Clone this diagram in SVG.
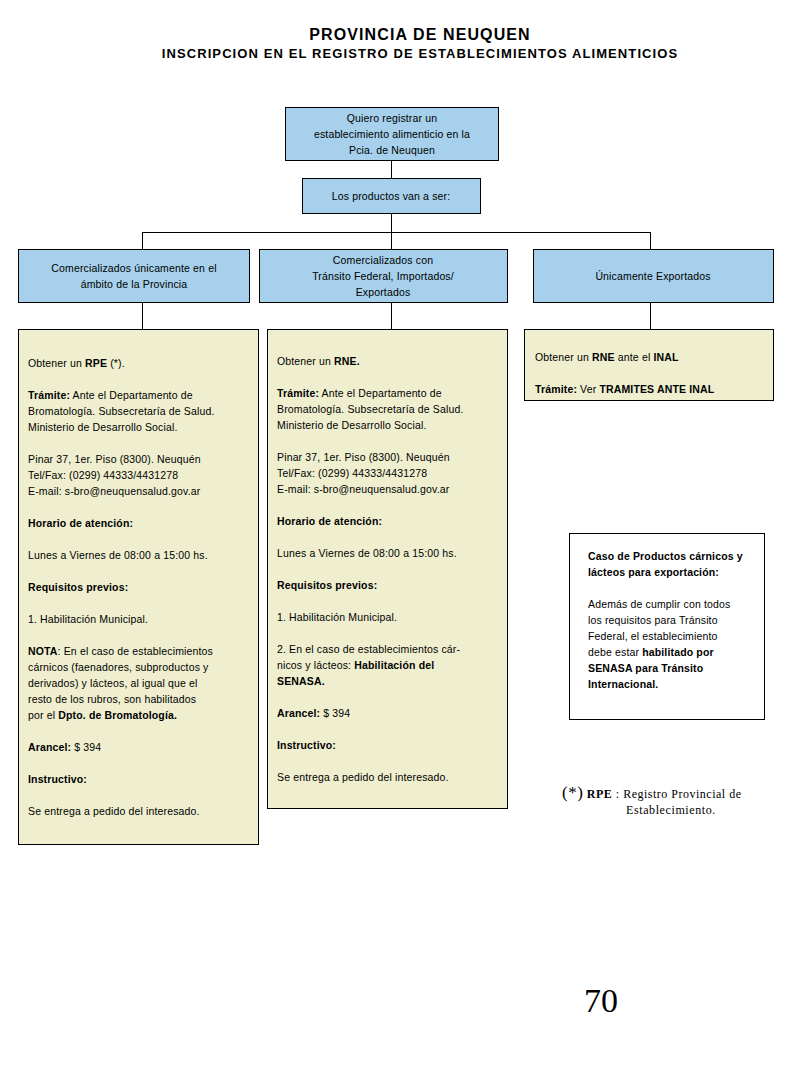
<svg xmlns="http://www.w3.org/2000/svg" width="800" height="1066" viewBox="0 0 800 1066">
<style>
.t{font-family:"Liberation Sans",Arial,sans-serif;font-size:10.5px;fill:#000;letter-spacing:0.15px}
.c{text-anchor:middle}
.b{font-weight:bold}
.blue{fill:#a6d0eb;stroke:#000;stroke-width:1}
.yel{fill:#efefcf;stroke:#000;stroke-width:1}
.wht{fill:#fff;stroke:#000;stroke-width:1}
.ln{stroke:#000;stroke-width:1;fill:none}
.s{font-family:"Liberation Serif","Times New Roman",serif;fill:#000}
</style>
<rect width="800" height="1066" fill="#fff"/>
<text x="420" y="40" class="t c b" style="font-size:16px;letter-spacing:1.1px">PROVINCIA DE NEUQUEN</text>
<text x="420" y="58" class="t c b" style="font-size:13px;letter-spacing:1.1px">INSCRIPCION EN EL REGISTRO DE ESTABLECIMIENTOS ALIMENTICIOS</text>

<g id="connectors">
<path class="ln" d="M391.5 160V178M391.5 213V232.5M142.5 232.5H650.5M142.5 232V249M391.5 232V249M650.5 232V249M142.5 302V329M391.5 302V329M650.5 302V329"/>
</g>

<g id="n1">
<rect class="blue" x="285.5" y="107.5" width="213" height="53"/>
<text class="t c" x="392" y="122">Quiero registrar un</text>
<text class="t c" x="392" y="138">establecimiento alimenticio en la</text>
<text class="t c" x="392" y="154">Pcia. de Neuquen</text>
</g>
<g id="n2">
<rect class="blue" x="302.5" y="178.5" width="178" height="35"/>
<text class="t c" x="391" y="200">Los productos van a ser:</text>
</g>
<g id="n3">
<rect class="blue" x="18.5" y="249.5" width="231" height="53"/>
<text class="t c" x="134" y="272">Comercializados únicamente en el</text>
<text class="t c" x="134" y="288">ámbito de la Provincia</text>
</g>
<g id="n4">
<rect class="blue" x="259.5" y="249.5" width="248" height="53"/>
<text class="t c" x="383" y="264">Comercializados con</text>
<text class="t c" x="383" y="280">Tránsito Federal, Importados/</text>
<text class="t c" x="383" y="296">Exportados</text>
</g>
<g id="n5">
<rect class="blue" x="533.5" y="249.5" width="240" height="53"/>
<text class="t c" x="653" y="280">Únicamente Exportados</text>
</g>

<g id="n6">
<rect class="yel" x="18.5" y="329.5" width="240" height="515"/>
<text class="t" x="28" y="367">Obtener un <tspan class="b">RPE</tspan> (*).</text>
<text class="t" x="28" y="399"><tspan class="b">Trámite:</tspan> Ante el Departamento de</text>
<text class="t" x="28" y="415">Bromatología. Subsecretaría de Salud.</text>
<text class="t" x="28" y="431">Ministerio de Desarrollo Social.</text>
<text class="t" x="28" y="463">Pinar 37, 1er. Piso (8300). Neuquén</text>
<text class="t" x="28" y="479">Tel/Fax: (0299) 44333/4431278</text>
<text class="t" x="28" y="495">E-mail: s-bro@neuquensalud.gov.ar</text>
<text class="t b" x="28" y="527">Horario de atención:</text>
<text class="t" x="28" y="559">Lunes a Viernes de 08:00 a 15:00 hs.</text>
<text class="t b" x="28" y="591">Requisitos previos:</text>
<text class="t" x="28" y="623">1.  Habilitación Municipal.</text>
<text class="t" x="28" y="655"><tspan class="b">NOTA</tspan>: En el caso de establecimientos</text>
<text class="t" x="28" y="671">cárnicos (faenadores, subproductos y</text>
<text class="t" x="28" y="687">derivados) y lácteos, al igual que el</text>
<text class="t" x="28" y="703">resto de los rubros, son habilitados</text>
<text class="t" x="28" y="719">por el  <tspan class="b">Dpto. de Bromatología.</tspan></text>
<text class="t" x="28" y="751"><tspan class="b">Arancel:</tspan> $ 394</text>
<text class="t b" x="28" y="783">Instructivo:</text>
<text class="t" x="28" y="815">Se entrega a pedido del interesado.</text>
</g>

<g id="n7">
<rect class="yel" x="267.5" y="329.5" width="240" height="479"/>
<text class="t" x="277" y="365">Obtener un <tspan class="b">RNE.</tspan></text>
<text class="t" x="277" y="397"><tspan class="b">Trámite:</tspan> Ante el Departamento de</text>
<text class="t" x="277" y="413">Bromatología. Subsecretaría de Salud.</text>
<text class="t" x="277" y="429">Ministerio de Desarrollo Social.</text>
<text class="t" x="277" y="461">Pinar 37, 1er. Piso (8300). Neuquén</text>
<text class="t" x="277" y="477">Tel/Fax: (0299) 44333/4431278</text>
<text class="t" x="277" y="493">E-mail: s-bro@neuquensalud.gov.ar</text>
<text class="t b" x="277" y="525">Horario de atención:</text>
<text class="t" x="277" y="557">Lunes a Viernes de 08:00 a 15:00 hs.</text>
<text class="t b" x="277" y="589">Requisitos previos:</text>
<text class="t" x="277" y="621">1.  Habilitación Municipal.</text>
<text class="t" x="277" y="653">2.  En el caso de establecimientos cár-</text>
<text class="t" x="277" y="669">nicos y lácteos:  <tspan class="b">Habilitación del</tspan></text>
<text class="t b" x="277" y="685">SENASA.</text>
<text class="t" x="277" y="717"><tspan class="b">Arancel:</tspan> $ 394</text>
<text class="t b" x="277" y="749">Instructivo:</text>
<text class="t" x="277" y="781">Se entrega a pedido del interesado.</text>
</g>

<g id="n8">
<rect class="yel" x="524.5" y="329.5" width="249" height="71"/>
<text class="t" x="535" y="361">Obtener un <tspan class="b">RNE</tspan> ante el <tspan class="b">INAL</tspan></text>
<text class="t" x="535" y="393"><tspan class="b">Trámite:</tspan> Ver <tspan class="b">TRAMITES ANTE INAL</tspan></text>
</g>

<g id="n9">
<rect class="wht" x="569.5" y="533.5" width="195" height="186"/>
<text class="t b" x="588" y="560">Caso de Productos cárnicos y</text>
<text class="t b" x="588" y="576">lácteos para exportación:</text>
<text class="t" x="588" y="608">Además de cumplir con todos</text>
<text class="t" x="588" y="624">los requisitos para Tránsito</text>
<text class="t" x="588" y="640">Federal, el establecimiento</text>
<text class="t" x="588" y="656">debe estar <tspan class="b">habilitado por</tspan></text>
<text class="t b" x="588" y="672">SENASA para Tránsito</text>
<text class="t b" x="588" y="688">Internacional.</text>
</g>

<g id="footnote">
<text class="s" x="562" y="798" style="font-size:12px;letter-spacing:0.5px"><tspan style="font-size:17px">(*)</tspan> <tspan font-weight="bold">RPE</tspan> : Registro Provincial de</text>
<text class="s" x="626" y="814" style="font-size:12px;letter-spacing:0.6px">Establecimiento.</text>
</g>
<text class="s" x="584" y="1012" style="font-size:34px">70</text>
</svg>
